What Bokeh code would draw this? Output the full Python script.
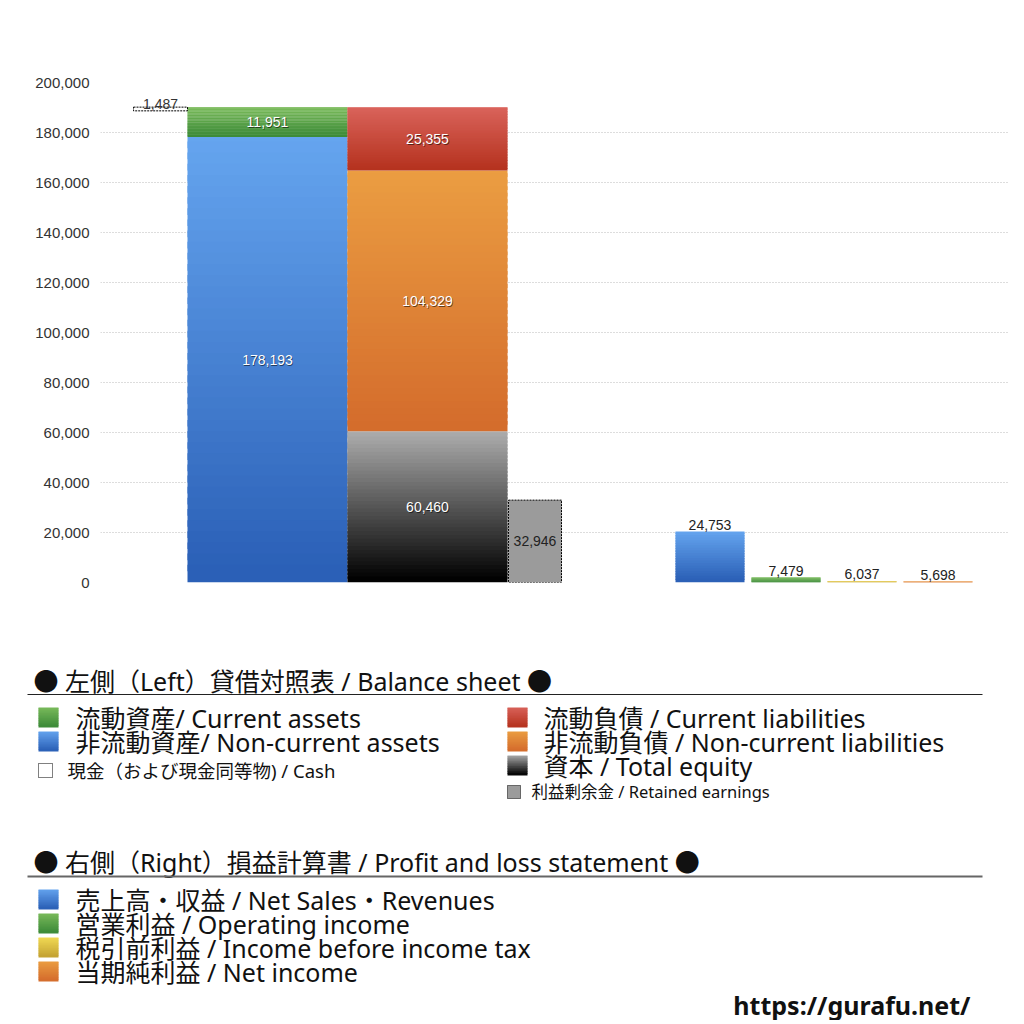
from bokeh.core.properties import value
from bokeh.embed import file_html
from bokeh.layouts import column
from bokeh.models import ColumnDataSource, NumeralTickFormatter, Range1d, SingleIntervalTicker
from bokeh.plotting import figure
from bokeh.resources import INLINE

# balance sheet (left) values
noncurrent_assets = 178193
current_assets = 11951
cash = 1487
total_equity = 60460
noncurrent_liabilities = 104329
current_liabilities = 25355
retained_earnings = 32946

# profit and loss (right): printed values and bar heights as read on the left axis
pl_names = ["売上高・収益", "営業利益", "税引前利益", "当期純利益"]
pl_values = [24753, 7479, 6037, 5698]
pl_heights = [20400, 2000, 600, 400]

y_ticks = [0, 20000, 40000, 60000, 80000, 100000, 120000, 140000, 160000, 180000, 200000]

JP = "'Noto Sans', 'Noto Sans CJK JP'"
NUM = "Liberation Sans"

# gradient colours (top, bottom)
GREEN = ("#7cbc5c", "#3c8a38")
BLUE = ("#66a6f0", "#2a5fb6")
RED = ("#da645c", "#b5321e")
ORANGE = ("#eb9e42", "#d46c2c")
BLACK = ("#b0b0b0", "#000000")
YELLOW = ("#f3dc55", "#c3a233")


def mix(c0, c1, t):
    a = [int(c0[i:i + 2], 16) for i in (1, 3, 5)]
    b = [int(c1[i:i + 2], 16) for i in (1, 3, 5)]
    return "#%02x%02x%02x" % tuple(round(a[k] + (b[k] - a[k]) * t) for k in range(3))


def gradient(fig, left, right, y_top, y_bottom, colors, n=40):
    # horizontal bands from y_top (colors[0]) to y_bottom (colors[1]),
    # each band overlaps the previous one a little so no seams show
    step = (y_bottom - y_top) / n
    lefts, rights, tops, bottoms, fills = [], [], [], [], []
    for i in range(n):
        lefts.append(left)
        rights.append(right)
        tops.append(y_top + step * i - (step * 0.6 if i > 0 else 0))
        bottoms.append(y_top + step * (i + 1))
        fills.append(mix(colors[0], colors[1], (i + 0.5) / n))
    src = ColumnDataSource(dict(left=lefts, right=rights, top=tops, bottom=bottoms, c=fills))
    fig.quad(left="left", right="right", top="top", bottom="bottom", fill_color="c",
             line_color=None, source=src)


def inner_label(fig, x, y, txt, color="white", shadow=True):
    if shadow:
        fig.text(x=[x], y=[y], text=[txt], x_offset=0.8, y_offset=0.8, text_color="#000000",
                 text_alpha=0.55, text_font=value(NUM), text_font_size=value("14px"),
                 text_align="center", text_baseline="middle")
    fig.text(x=[x], y=[y], text=[txt], text_color=color, text_font=value(NUM),
             text_font_size=value("14px"), text_align="center", text_baseline="middle")


# ---------------- chart ----------------
p = figure(width=1016, height=628, output_backend="svg", toolbar_location=None,
           x_range=Range1d(0, 908), y_range=Range1d(0, 200000),
           min_border_left=100, min_border_right=8, min_border_top=82, min_border_bottom=46)
p.frame_align = False
p.outline_line_color = None
p.xaxis.visible = False
p.xgrid.visible = False
p.ygrid.ticker = SingleIntervalTicker(interval=20000)
p.ygrid.grid_line_color = "#bbbbbb"
p.ygrid.grid_line_dash = "1 2"
p.yaxis.ticker = y_ticks
p.yaxis.formatter = NumeralTickFormatter(format="0,0")
p.yaxis.axis_line_color = None
p.yaxis.major_tick_line_color = None
p.yaxis.minor_tick_line_color = None
p.yaxis.major_tick_out = 0
p.yaxis.minor_tick_out = 0
p.yaxis.major_label_text_font = NUM
p.yaxis.major_label_text_font_size = "15px"
p.yaxis.major_label_text_color = "#333333"
p.yaxis.major_label_standoff = 11

# bar slots (layout only)
cash_l, cash_r = 33, 87
assets_l, assets_r = 87, 247
liab_l, liab_r = 247, 407
ret_l, ret_r = 408, 461
pl_start, pl_width, pl_step = 575, 69, 76

assets_total = noncurrent_assets + current_assets
gradient(p, assets_l, assets_r, noncurrent_assets, 0, BLUE)
gradient(p, assets_l, assets_r, assets_total, noncurrent_assets, GREEN)

liab_mid = total_equity + noncurrent_liabilities
liab_total = liab_mid + current_liabilities
gradient(p, liab_l, liab_r, total_equity, 0, BLACK)
gradient(p, liab_l, liab_r, liab_mid, total_equity, ORANGE)
gradient(p, liab_l, liab_r, liab_total, liab_mid, RED)

# cash (dotted outline at the top of assets)
p.quad(left=[cash_l], right=[cash_r], top=[assets_total], bottom=[assets_total - cash],
       fill_color=None, line_color="black", line_dash="2 1", line_width=1)
p.text(x=[(cash_l + cash_r) / 2], y=[assets_total], text=["{:,}".format(cash)], text_color="#333333",
       text_font=value(NUM), text_font_size=value("14px"), text_align="center",
       text_baseline="bottom", y_offset=2)

# retained earnings
p.quad(left=[ret_l], right=[ret_r], top=[retained_earnings], bottom=[0],
       fill_color="#9b9b9b", line_color="black", line_dash="2 1", line_width=1)
inner_label(p, (ret_l + ret_r) / 2, retained_earnings / 2, "{:,}".format(retained_earnings),
            color="#222222", shadow=False)

inner_label(p, (assets_l + assets_r) / 2, noncurrent_assets / 2, "{:,}".format(noncurrent_assets))
inner_label(p, (assets_l + assets_r) / 2, noncurrent_assets + current_assets / 2, "{:,}".format(current_assets))
inner_label(p, (liab_l + liab_r) / 2, total_equity / 2, "{:,}".format(total_equity))
inner_label(p, (liab_l + liab_r) / 2, total_equity + noncurrent_liabilities / 2, "{:,}".format(noncurrent_liabilities))
inner_label(p, (liab_l + liab_r) / 2, liab_mid + current_liabilities / 2, "{:,}".format(current_liabilities))

# profit and loss bars
pl_colors = [BLUE, GREEN, YELLOW, ORANGE]
for i, v in enumerate(pl_values):
    left = pl_start + i * pl_step
    h = pl_heights[i]
    gradient(p, left, left + pl_width, h, 0, pl_colors[i], n=20)
    p.text(x=[left + pl_width / 2], y=[h], text=["{:,}".format(v)], text_color="#222222",
           text_font=value(NUM), text_font_size=value("14px"), text_align="center",
           text_baseline="bottom", y_offset=-2)

# ---------------- legend ----------------
lg = figure(width=1016, height=392, output_backend="svg", toolbar_location=None,
            x_range=Range1d(0, 1016), y_range=Range1d(392, 0),
            min_border_left=0, min_border_right=0, min_border_top=0, min_border_bottom=0)
lg.frame_align = False
lg.outline_line_color = None
lg.axis.visible = False
lg.grid.visible = False


def big_text(x, y, txt, size="25px"):
    lg.text(x=[x], y=[y], text=[txt], text_color="#111111", text_font=value(JP),
            text_font_size=value(size), text_align="left", text_baseline="middle")


big_text(33, 52, "● 左側（Left）貸借対照表 / Balance sheet ●")
lg.line(x=[27, 982], y=[66, 66], line_color="#222222", line_width=1.2)

bs_left_items = [("流動資産/ Current assets", GREEN), ("非流動資産/ Non-current assets", BLUE)]
bs_right_items = [("流動負債 /  Current liabilities", RED), ("非流動負債 / Non-current liabilities", ORANGE),
                  ("資本 / Total equity", BLACK)]
for i, (name, col) in enumerate(bs_left_items):
    yc = 89 + 24 * i
    gradient(lg, 38, 58, yc - 10, yc + 10, col, n=12)
    big_text(75, yc, name)
for i, (name, col) in enumerate(bs_right_items):
    yc = 89 + 24 * i
    gradient(lg, 507, 527, yc - 10, yc + 10, col, n=12)
    big_text(543, yc, name)

lg.quad(left=[38], right=[52], top=[135], bottom=[149], fill_color=None,
        line_color="black", line_dash="1 1", line_width=1)
big_text(67, 142, "現金（および現金同等物) / Cash", size="18.5px")
lg.quad(left=[507], right=[520], top=[157], bottom=[170], fill_color="#9b9b9b",
        line_color="black", line_dash="1 1", line_width=1)
big_text(531, 163, "利益剰余金 / Retained earnings", size="16.5px")

big_text(33, 233, "● 右側（Right）損益計算書 / Profit and loss statement ●")
lg.line(x=[27, 982], y=[248, 248], line_color="#666666", line_width=2)

pl_legend = ["売上高・収益 / Net Sales・Revenues", "営業利益 / Operating income",
             "税引前利益 / Income before income tax", "当期純利益 / Net income"]
for i, name in enumerate(pl_legend):
    yc = 271 + 24 * i
    gradient(lg, 38, 58, yc - 10, yc + 10, pl_colors[i], n=12)
    big_text(75, yc, name)

lg.text(x=[970], y=[376], text=["https://gurafu.net/"], text_color="#111111",
        text_font=value("Noto Sans"), text_font_style="bold", text_font_size=value("25px"),
        text_align="right", text_baseline="middle")

layout = column(p, lg, spacing=0)
open("out.html", "w").write(file_html(layout, INLINE))
